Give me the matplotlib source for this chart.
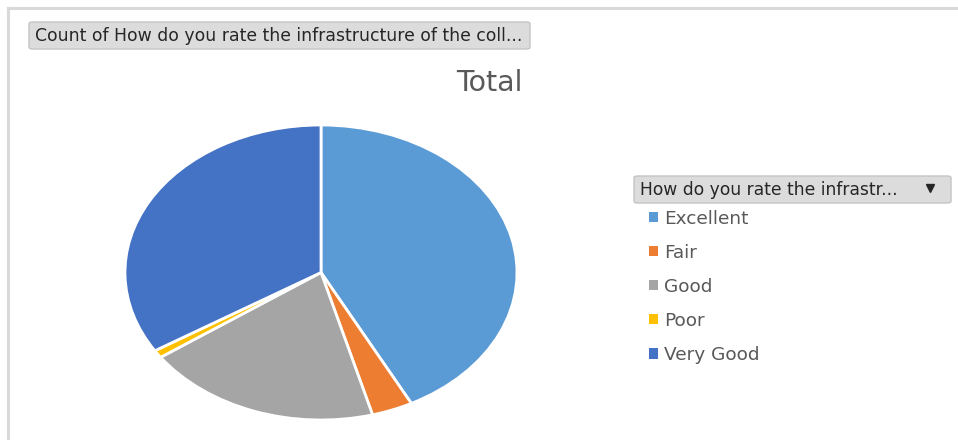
import matplotlib
matplotlib.use("Agg")
import matplotlib.pyplot as plt
from matplotlib.patches import FancyBboxPatch, Patch
from matplotlib.lines import Line2D

ratings = ["Excellent", "Fair", "Good", "Poor", "Very Good"]
counts = [50, 4, 23, 1, 40]
colors = ["#5B9BD5", "#ED7D31", "#A5A5A5", "#FFC000", "#4472C4"]

field_button = "Count of How do you rate the infrastructure of the coll..."
legend_button = "How do you rate the infrastr..."
title = "Total"

plt.rcParams["font.family"] = ["DejaVu Sans"]

W, H = 958, 440
fig = plt.figure(figsize=(W / 100, H / 100), dpi=100)
fig.patch.set_facecolor("white")


def fx(px):
    return px / W


def fy(py):
    return 1 - py / H


# chart area border (only top and left visible in the crop)
fig.add_artist(Line2D([fx(8), fx(8)], [fy(8), 0], color="#d9d9d9", lw=2.2))
fig.add_artist(Line2D([fx(8), 1], [fy(8), fy(8)], color="#d9d9d9", lw=2.2))


def button(x0, y0, x1, y1):
    fig.add_artist(FancyBboxPatch((fx(x0), fy(y1)), fx(x1 - x0), fy(y0) - fy(y1),
                                  boxstyle="round,pad=0,rounding_size=0.004",
                                  transform=fig.transFigure, facecolor="#dcdcdc",
                                  edgecolor="#c4c4c4", lw=1.0))


# field button top-left
button(29, 22, 530, 49)
fig.text(fx(35), fy(36), field_button, fontsize=12.4, color="#262626",
         ha="left", va="center")

# chart title
fig.text(fx(523), fy(83), title, fontsize=20.5, color="#595959", ha="right", va="center")

# pie, stretched into an ellipse like the Excel render
ax = fig.add_axes([fx(125), fy(420), fx(517) - fx(125), fy(125) - fy(420)])
ax.pie(counts, colors=colors, startangle=90, counterclock=False,
       wedgeprops=dict(edgecolor="white", linewidth=2))
ax.set_aspect("auto")
ax.set_xlim(-1.0, 1.0)
ax.set_ylim(-1.0, 1.0)
ax.axis("off")

# legend with its dropdown button
button(634, 176, 951, 203)
fig.text(fx(640), fy(190), legend_button, fontsize=12.3, color="#262626",
         ha="left", va="center")
fig.add_artist(Line2D([fx(930)], [fy(188)], marker="v", markersize=5.5,
                      color="#262626", transform=fig.transFigure))

handles = [Patch(facecolor=c, edgecolor="none") for c in colors]
fig.legend(handles, ratings, loc="upper left",
           bbox_to_anchor=(fx(643), fy(204)), frameon=False,
           fontsize=13.3, labelcolor="#595959",
           handlelength=0.5, handleheight=0.5, handletextpad=0.35,
           labelspacing=0.87, borderaxespad=0, borderpad=0.3)

fig.savefig("out.png", dpi=100, facecolor="white")
